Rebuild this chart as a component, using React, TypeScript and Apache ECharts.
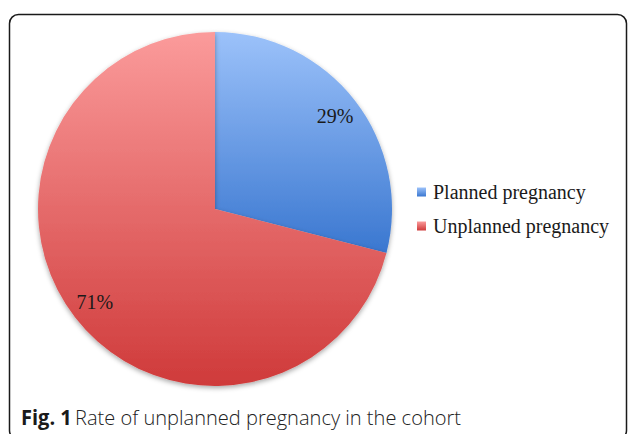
import React, { useEffect, useRef } from "react";
import * as echarts from "echarts";

const categories = ["Planned pregnancy", "Unplanned pregnancy"];
const values = [29, 71];
const captionBold = "Fig. 1";
const captionText = "Rate of unplanned pregnancy in the cohort";

const gradients = [
  ["#9cc2fa", "#3a77d0"],
  ["#fb9b9b", "#cf3a3a"],
];

export default function App() {
  const ref = useRef<HTMLDivElement>(null);
  useEffect(() => {
    document.body.style.margin = "0";
    const chart = echarts.init(ref.current!, null, { renderer: "svg" });
    const data = categories.map((name, i) => ({
      name,
      value: values[i],
      itemStyle: {
        color: new echarts.graphic.LinearGradient(0, 0, 0, 1, [
          { offset: 0, color: gradients[i][0] },
          { offset: 1, color: gradients[i][1] },
        ]),
      },
    }));
    const labelData = categories.map((name, i) => ({ name, value: values[i] }));
    chart.setOption({
      animation: false,
      backgroundColor: "#ffffff",
      legend: {
        data: categories,
        orient: "vertical",
        left: 417,
        top: 182,
        padding: 0,
        itemWidth: 9,
        itemHeight: 9,
        itemGap: 14,
        icon: "rect",
        selectedMode: false,
        textStyle: {
          fontFamily: "Liberation Serif",
          fontSize: 20,
          lineHeight: 20,
          color: "#1a1a1a",
          padding: [0, 0, 0, 2],
        },
      },
      graphic: [
        {
          type: "rect",
          shape: { x: 9.5, y: 14.5, width: 617, height: 425, r: 9 },
          style: { fill: "none", stroke: "#1a1a1a", lineWidth: 1.5 },
          silent: true,
        },
        {
          type: "text",
          x: 21,
          y: 417,
          scaleX: 0.955,
          style: {
            text: "{b|" + captionBold + "} {r|" + captionText + "}",
            verticalAlign: "middle",
            rich: {
              b: { fontFamily: "Open Sans", fontWeight: "bold", fontSize: 21, fill: "#1a1a1a" },
              r: { fontFamily: "Open Sans", fontWeight: 300, fontSize: 21, fill: "#222" },
            },
          },
        },
      ],
      series: [
        {
          type: "pie",
          center: [215, 209],
          radius: [0, 177],
          startAngle: 90,
          clockwise: true,
          silent: true,
          label: { show: false },
          labelLine: { show: false },
          emphasis: { disabled: true },
          itemStyle: {
            shadowBlur: 5,
            shadowOffsetY: 2,
            shadowColor: "rgba(0,0,0,0.35)",
          },
          data,
        },
        {
          type: "pie",
          center: [215, 209],
          radius: [121, 177],
          startAngle: 90,
          clockwise: true,
          silent: true,
          emphasis: { disabled: true },
          itemStyle: { color: "rgba(0,0,0,0)" },
          label: {
            show: true,
            position: "inside",
            formatter: "{c}%",
            fontFamily: "Liberation Serif",
            fontSize: 20,
            color: "#1a1a1a",
          },
          labelLine: { show: false },
          data: labelData,
        },
      ],
    });
    return () => chart.dispose();
  }, []);
  return <div ref={ref} style={{ width: 628, height: 434 }} />;
}
